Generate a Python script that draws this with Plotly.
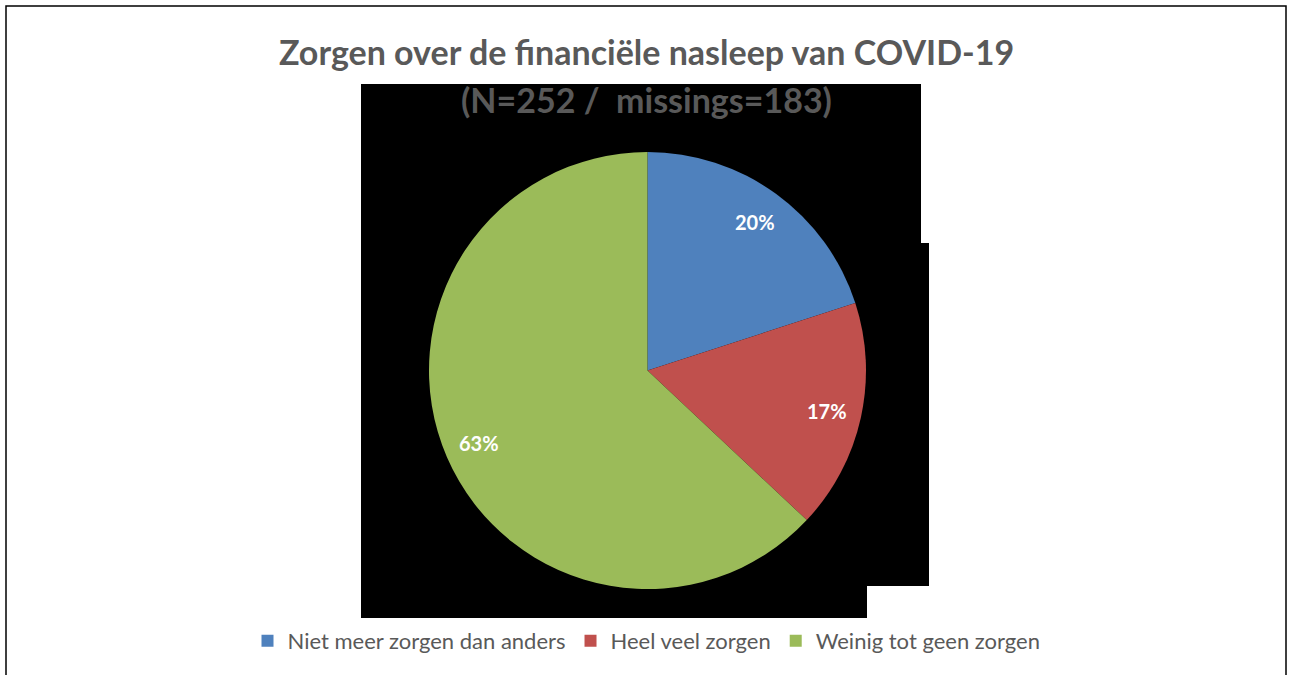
import math
import plotly.graph_objects as go

categories = ["Niet meer zorgen dan anders", "Heel veel zorgen", "Weinig tot geen zorgen"]
percentages = [20, 17, 63]
colors = ["#4F81BD", "#C0504D", "#9BBB59"]
title_line1 = "Zorgen over de financiële nasleep van COVID-19"
title_line2 = "(N=252 /  missings=183)"

W, H = 1293, 675

def px(x):
    return x / W

def py(y):
    return 1 - y / H

# pie placement (pixels in the page)
cx, cy, R = 647.5, 370.5, 218.5
label_r = 0.84

fig = go.Figure()
fig.add_trace(go.Pie(
    labels=categories,
    values=percentages,
    marker=dict(colors=colors, line=dict(width=0)),
    sort=False,
    direction="clockwise",
    rotation=0,
    textinfo="none",
    domain=dict(x=[px(cx - R), px(cx + R)], y=[py(cy + R), py(cy - R)]),
    hoverinfo="label+percent",
))

# percentage labels placed at the middle angle of each slice (derived from the data)
annotations = []
total = sum(percentages)
cum = 0
for v in percentages:
    mid = (cum + v / 2) / total * 2 * math.pi
    cum += v
    lx = cx + label_r * R * math.sin(mid)
    ly = cy - label_r * R * math.cos(mid)
    annotations.append(dict(
        x=px(lx), y=py(ly), xref="paper", yref="paper",
        text=f"{round(v / total * 100)}%", showarrow=False,
        xanchor="center", yanchor="middle",
        font=dict(family="Lato", size=20, color="white", weight="bold"),
    ))

annotations.append(dict(
    x=0.5, y=py(52), xref="paper", yref="paper", text=title_line1,
    showarrow=False, xanchor="center", yanchor="middle",
    font=dict(family="Lato", size=34, color="#595959", weight="bold"),
))
annotations.append(dict(
    x=0.5, y=py(99), xref="paper", yref="paper", text=title_line2,
    showarrow=False, xanchor="center", yanchor="middle",
    font=dict(family="Lato", size=34, color="#595959", weight="bold"),
))

# black background artefact behind the pie
pts = [(361, 84), (921, 84), (921, 243), (929, 243), (929, 586),
       (867, 586), (867, 618), (361, 618)]
path = "M " + " L ".join(f"{px(x)} {py(y)}" for x, y in pts) + " Z"

fig.update_layout(
    width=W, height=H,
    margin=dict(l=0, r=0, t=0, b=0),
    paper_bgcolor="white",
    plot_bgcolor="white",
    annotations=annotations,
    shapes=[
        dict(type="path", path=path, xref="paper", yref="paper",
             fillcolor="black", line=dict(width=0), layer="below"),
        dict(type="rect", xref="paper", yref="paper",
             x0=px(6), x1=px(1286), y0=py(700), y1=py(6),
             line=dict(color="black", width=1.5), fillcolor="rgba(0,0,0,0)",
             layer="above"),
    ],
    legend=dict(
        orientation="h", x=0.5, xanchor="center", y=py(641), yanchor="middle",
        font=dict(family="Lato", size=22, color="#595959"),
    ),
)

fig.write_html("out.html", config={"displayModeBar": False},
               post_script="document.body.style.margin='0';")
